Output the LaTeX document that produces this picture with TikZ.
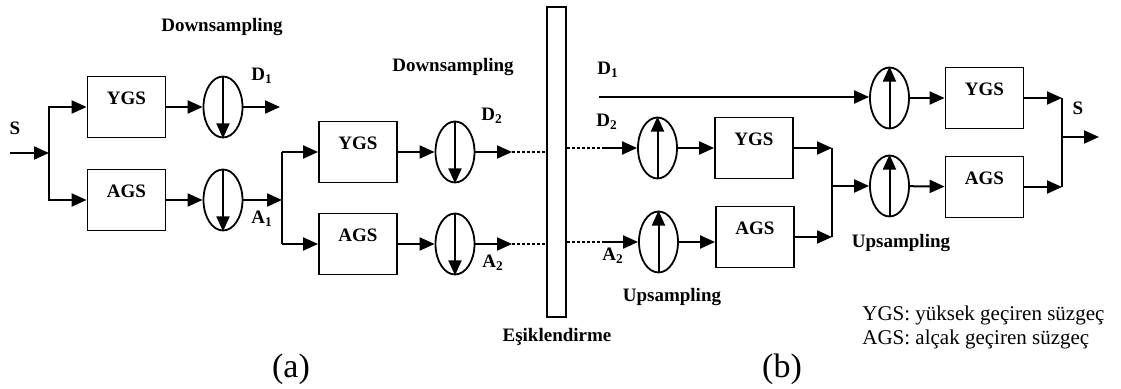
\documentclass[tikz,border=0pt]{standalone}
\usepackage{fontspec}
\setmainfont{Liberation Serif}
\usetikzlibrary{shapes.geometric,arrows.meta}
\begin{document}
\begin{tikzpicture}[x=0.5pt,y=-0.5pt,
  ln/.style={line width=1pt},
  arr/.style={line width=1pt,-{Triangle[length=7.5pt,width=6.5pt]}},
  filt/.style={draw,line width=0.9pt,rectangle,minimum width=39pt,minimum height=30.5pt,inner sep=0pt},
  samp/.style={draw,ellipse,line width=0.9pt,minimum width=19.5pt,minimum height=30.5pt,inner sep=0pt},
  lbl/.style={font=\bfseries\fontsize{9.5}{11}\selectfont,inner sep=0pt},
  dots/.style={line width=1pt,dash pattern=on 1.3pt off 1.2pt},
  captxt/.style={font=\fontsize{17}{20}\selectfont,inner sep=0pt},
  leg/.style={font=\fontsize{10.5}{12}\selectfont,inner sep=0pt,anchor=west},
  ftxt/.style={label={[lbl,anchor=center,yshift=-11.5pt]north:#1}}
]
\useasboundingbox (0,0) rectangle (1121,389);
% blocks
\node[filt,ftxt=YGS] (ygs1) at (126.5,107) {};
\node[filt,ftxt=AGS] (ags1) at (126.5,200) {};
\node[samp] (ds1) at (223,107) {};
\node[samp] (ds2) at (223,200) {};
\node[filt,ftxt=YGS] (ygs2) at (358,152) {};
\node[filt,ftxt=AGS] (ags2) at (358,244) {};
\node[samp] (ds3) at (455,152) {};
\node[samp] (ds4) at (455,244) {};
\node[draw,line width=0.9pt,minimum width=9.5pt,minimum height=155pt,inner sep=0pt] (bar) at (556.5,162) {};
\node[samp] (us1) at (657.5,148) {};
\node[samp] (us2) at (658.5,242) {};
\node[filt,ftxt=YGS] (ygs3) at (754,148) {};
\node[filt,ftxt=AGS] (ags3) at (755,237) {};
\node[samp] (us4) at (889.5,98) {};
\node[filt,ftxt=YGS] (ygs4) at (984.5,98) {};
\node[samp] (us3) at (889.5,186) {};
\node[filt,ftxt=AGS] (ags4) at (984.5,187) {};
% coordinates
\coordinate (sin) at (10,153);
\coordinate (b1) at (49,153);
\coordinate (d1o) at (280,107);
\coordinate (b2t) at (282,152);
\coordinate (b2b) at (282,244);
\coordinate (d2o) at (512,152);
\coordinate (a2o) at (512,244);
\coordinate (d2i) at (603,148);
\coordinate (a2i) at (603,242);
\coordinate (d1s) at (599,97);
\coordinate (j1t) at (832,148);
\coordinate (j1b) at (832,237);
\coordinate (j1m) at (832,186);
\coordinate (j2t) at (1062,98);
\coordinate (j2b) at (1062,187);
\coordinate (j2m) at (1062,137);
\coordinate (sout) at (1099,137);
% sampling arrows inside ellipses
\foreach \n in {ds1,ds2,ds3,ds4}{\draw[arr] (\n.north) -- (\n.south);}
\foreach \n in {us1,us2,us3,us4}{\draw[arr] (\n.south) -- (\n.north);}
% connections (a)
\draw[arr] (sin) -- (b1);
\draw[arr] (b1) |- (ygs1.west);
\draw[arr] (b1) |- (ags1.west);
\draw[arr] (ygs1) -- (ds1);
\draw[arr] (ags1) -- (ds2);
\draw[arr] (ds1) -- (d1o);
\draw[arr] (ds2) -- (ds2 -| b2t);
\draw[ln] (b2t) -- (b2b);
\draw[arr] (b2t) -- (ygs2);
\draw[arr] (b2b) -- (ags2);
\draw[arr] (ygs2) -- (ds3);
\draw[arr] (ags2) -- (ds4);
\draw[arr] (ds3) -- (d2o);
\draw[arr] (ds4) -- (a2o);
\draw[dots] (d2o) -- (d2o -| bar.west);
\draw[dots] (a2o) -- (a2o -| bar.west);
% connections (b)
\draw[dots] (bar.east |- d2i) -- (d2i);
\draw[dots] (bar.east |- a2i) -- (a2i);
\draw[arr] (d2i) -- (us1);
\draw[arr] (a2i) -- (us2);
\draw[arr] (us1) -- (ygs3);
\draw[arr] (us2.east) -- (us2.east -| ags3.west);
\draw[arr] (ygs3) -- (j1t);
\draw[arr] (ags3) -- (j1b);
\draw[ln] (j1t) -- (j1b);
\draw[arr] (j1m) -- (us3);
\draw[arr] (us3) -- (ags4);
\draw[arr] (d1s) -- (d1s -| us4.west);
\draw[arr] (us4) -- (ygs4);
\draw[arr] (ygs4) -- (j2t);
\draw[arr] (ags4) -- (j2b);
\draw[ln] (j2t) -- (j2b);
\draw[arr] (j2m) -- (sout);
% labels
\node[lbl] (lds1) at (222,27) {Downsampling};
\node[lbl] (lds2) at (453,67) {Downsampling};
\node[lbl] (ls1) at (15,128) {S};
\node[lbl] (ld1a) at (262,76) {D\textsubscript{1}};
\node[lbl] (la1) at (262,219) {A\textsubscript{1}};
\node[lbl] (ld2a) at (492,116) {D\textsubscript{2}};
\node[lbl] (la2a) at (493,263) {A\textsubscript{2}};
\node[lbl] (lesik) at (557,337) {Eşiklendirme};
\node[lbl] (ld1b) at (608,70) {D\textsubscript{1}};
\node[lbl] (ld2b) at (607,122) {D\textsubscript{2}};
\node[lbl] (la2b) at (613,256) {A\textsubscript{2}};
\node[lbl] (lus1) at (672,297) {Upsampling};
\node[lbl] (lus2) at (901,243) {Upsampling};
\node[lbl] (ls2) at (1078,108) {S};
\node[captxt] (capa) at (291,369) {(a)};
\node[captxt] (capb) at (782,369) {(b)};
\node[leg] (leg1) at (862,315) {YGS: yüksek geçiren süzgeç};
\node[leg] (leg2) at (862,339) {AGS: alçak geçiren süzgeç};
\end{tikzpicture}
\end{document}
